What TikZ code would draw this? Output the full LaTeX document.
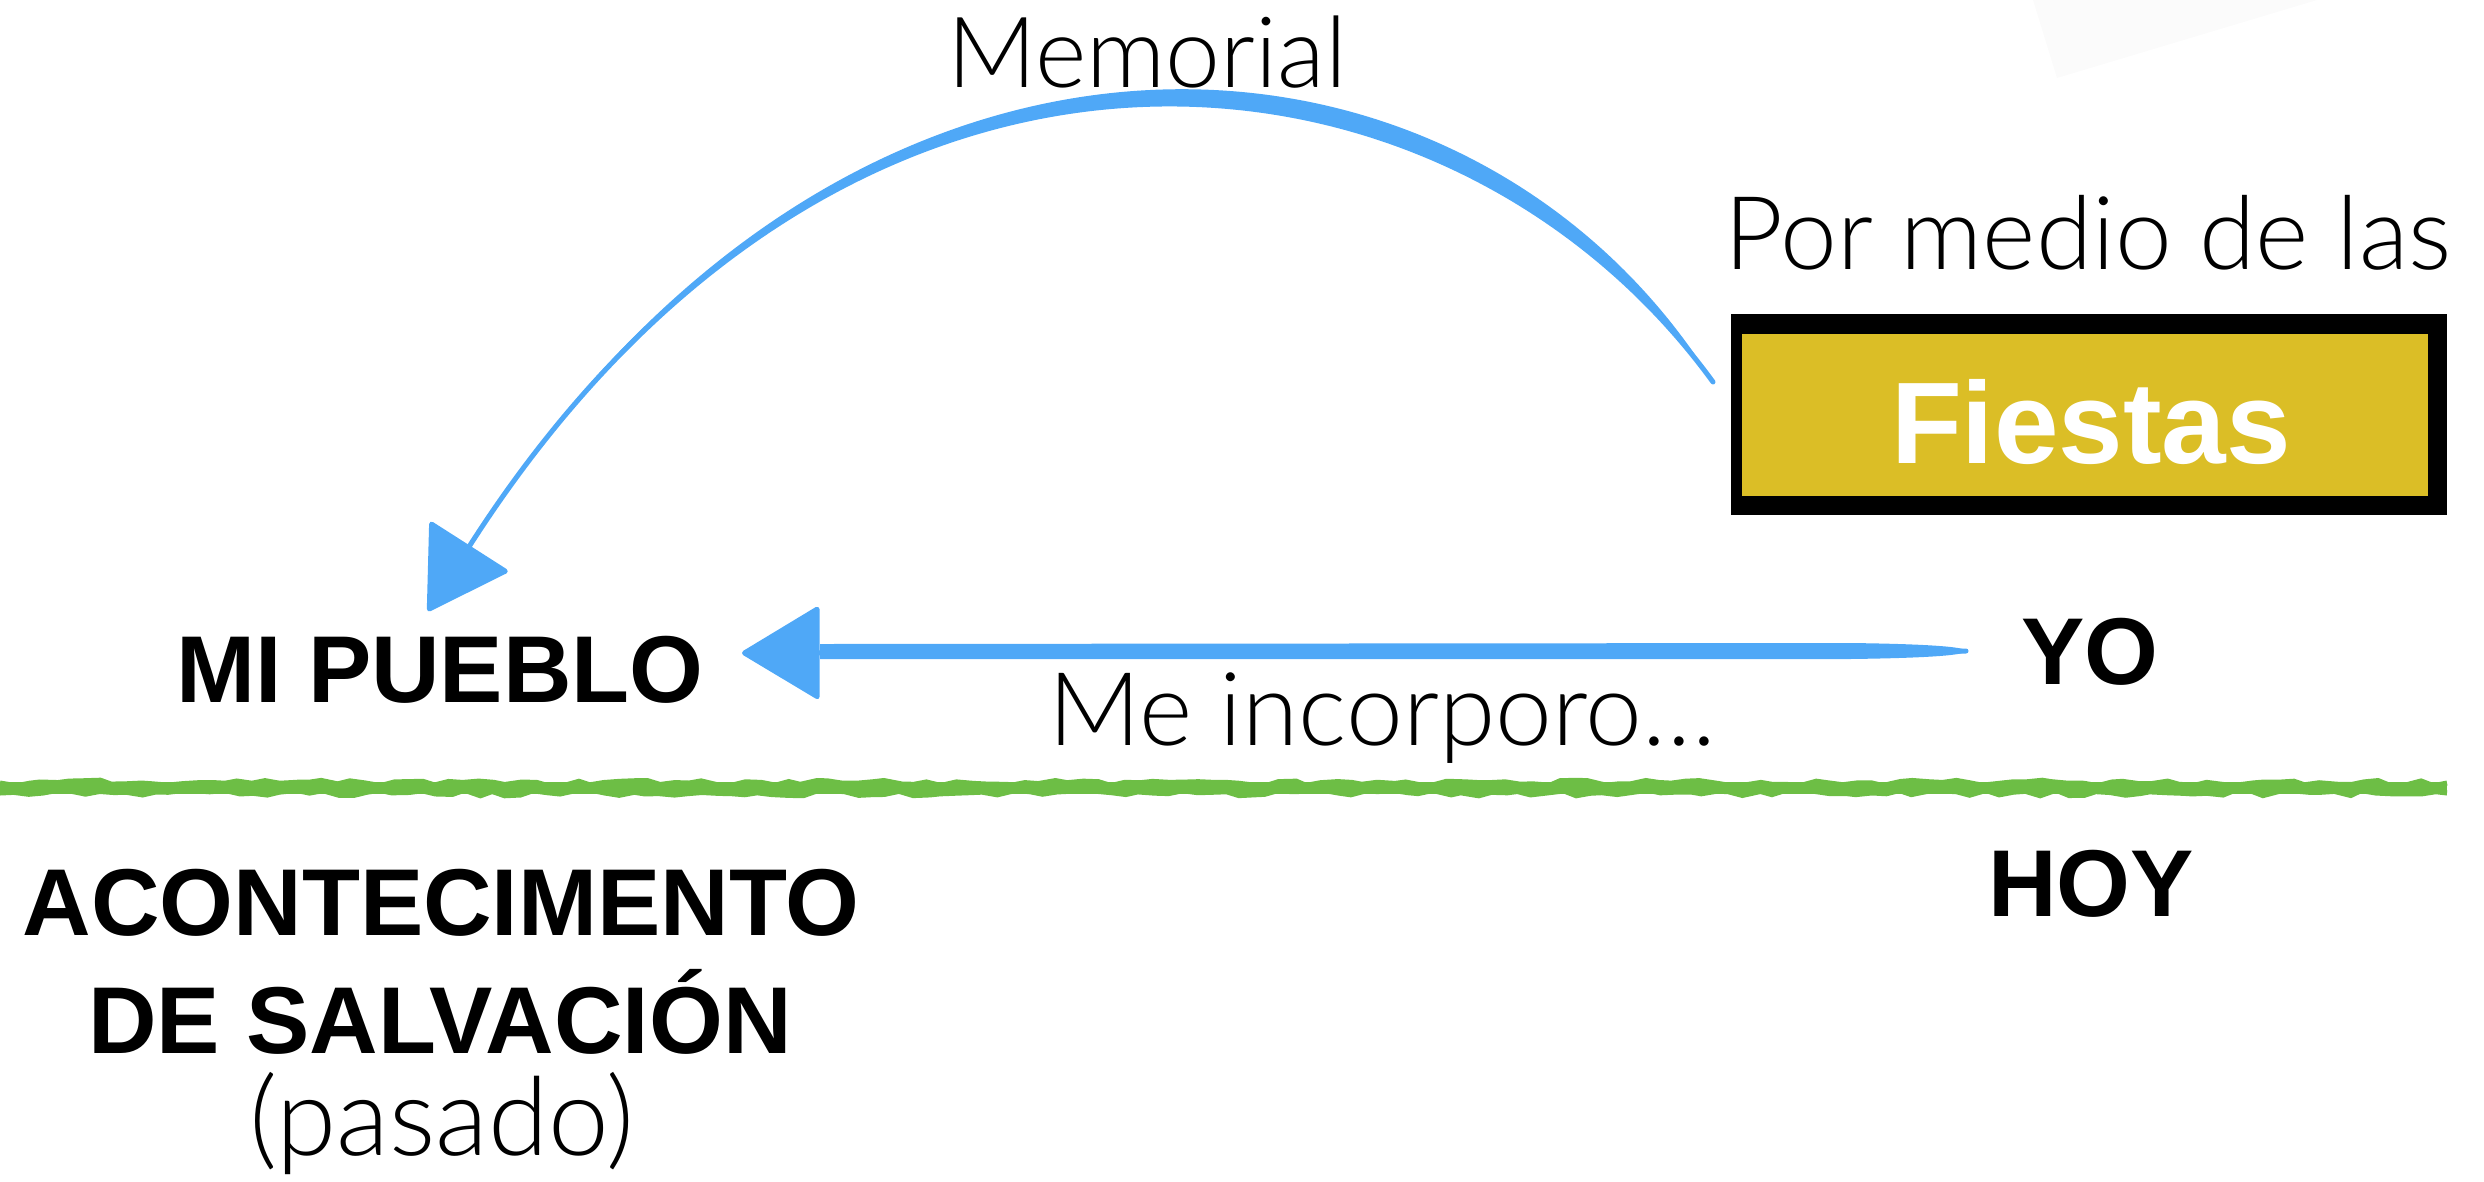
\documentclass[tikz,border=0pt]{standalone}
\usepackage{fontspec}
\setmainfont{Liberation Sans}
\newfontfamily\lightfont{Lato Light}
\usetikzlibrary{arrows.meta,decorations.pathmorphing}
\definecolor{arrowblue}{HTML}{4FA8F7}
\definecolor{fiestaY}{HTML}{DBBE26}
\definecolor{lineG}{HTML}{6DBE45}
\definecolor{faint}{HTML}{FBFBFB}
\tikzset{
  boldtxt/.style={font=\fontsize{27}{32}\selectfont\bfseries, inner sep=0pt, anchor=base},
  lighttxt/.style={font=\fontsize{29}{34}\selectfont\lightfont, inner sep=0pt, anchor=base},
  brush/.style={draw=arrowblue, line width=0.05cm, line cap=round,
    -{Triangle[length=0.8cm,width=0.95cm,round]}},
  brushfill/.style={fill=arrowblue},
  rough/.style={draw=lineG, line width=0.05cm, decorate,
    decoration={random steps, segment length=4pt, amplitude=0.8pt}},
}
\begin{document}
\begin{tikzpicture}[x=0.01cm,y=-0.01cm]
\pgfmathsetseed{7}
\useasboundingbox (0,0) rectangle (2484,1181);
% faint shape top right
\fill[faint] (2033,0) -- (2057,78) -- (2317,0) -- cycle;
% texts
\node[lighttxt, font=\fontsize{28}{33}\selectfont\lightfont] (memorial) at (1147,87) {Memorial};
\node[lighttxt] (pormedio) at (2088,269) {Por medio de las};
% Fiestas box
\fill[black] (1731,314) rectangle (2447,515);
\node[fill=fiestaY, inner sep=0pt, minimum width=6.85cm, minimum height=1.62cm] (fbox) at (2085,415) {};
\node[boldtxt, text=white, font=\fontsize{33}{38}\selectfont\bfseries] (fiestas) at (2091,463) {Fiestas};
\node[boldtxt] (yo) at (2090,684) {YO};
\node[boldtxt] (pueblo) at (440,702) {MI PUEBLO};
\node[lighttxt] (incorporo) at (1382,745) {Me incorporo…};
% green line
\coordinate (gL) at (0,788);
\coordinate (gR) at (2447,788);
\draw[lineG, line width=0.12cm] (gL) -- (gR);
\draw[rough] ([yshift=-0.05cm]gL) -- ([yshift=-0.05cm]gR);
\draw[rough] ([yshift=0.05cm]gL) -- ([yshift=0.05cm]gR);
\node[boldtxt] (hoy) at (2091,916) {HOY};
\node[boldtxt] (acont) at (441,935) {ACONTECIMENTO};
\node[boldtxt] (salv) at (440,1053) {DE SALVACIÓN};
\node[lighttxt, font=\fontsize{31}{36}\selectfont\lightfont] (pasado) at (442,1155) {(pasado)};
% Memorial arrow (tapered brush body follows the shortened curve)
\coordinate (memStart) at (1713,382);
\coordinate (memEnd) at (428,611);
\coordinate (memBase) at (470,545);
\fill[brushfill] (memStart) .. controls (1450,20) and (850,-50) .. (memBase)
  .. controls (850,-60) and (1470,-8) .. (memStart) -- cycle;
\draw[brush] (memStart) .. controls (1450,20) and (850,-50) .. (memEnd);
% Me incorporo arrow
\coordinate (yoStart) at (1966,651);
\coordinate (yoEnd) at (742,653);
\fill[brushfill] (820,644) -- (1850,643) .. controls (1930,644) and (1966,647) .. (yoStart)
  .. controls (1966,655) and (1930,658) .. (1850,659) -- (820,659) -- cycle;
\draw[brush] (yoStart) -- (yoEnd);
\end{tikzpicture}
\end{document}
